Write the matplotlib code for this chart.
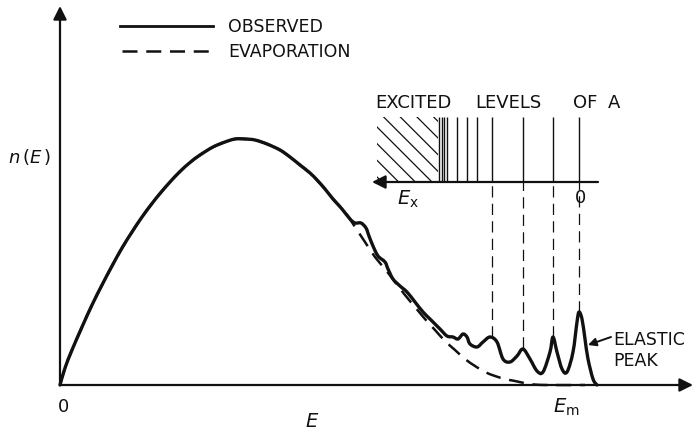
import numpy as np
import matplotlib.pyplot as plt
from matplotlib.patches import Rectangle, PathPatch
from matplotlib.path import Path

# energy spectrum n(E) of emitted particles, arbitrary units (E = 0 at origin)
obs_E = [0, 5, 12, 22, 32, 42, 52, 62, 72, 82, 92, 100, 110, 120, 130, 140,
         153, 165, 175, 185, 195, 207, 220, 230, 240, 250, 257, 265, 273, 282, 290,
         295, 301, 306, 309, 313, 318, 325, 328, 333, 340, 347, 355, 363, 370, 380,
         387, 393, 398, 403, 407, 410, 417, 423, 430, 437, 443, 450, 457, 463, 470,
         477, 483, 490, 493, 497, 502, 507, 513, 517, 519, 522, 525, 528, 533, 537]
obs_n = [0, 17, 35, 58, 80, 100, 119, 137, 153, 168, 181.5, 191.5, 203, 213.5, 222.5, 230,
         238, 243, 246, 246, 245, 241, 235, 228, 220, 212, 205, 196, 186, 176, 166,
         162, 162, 157, 149, 139, 129, 123, 116, 106, 99, 93, 83, 73, 66, 56,
         49, 48, 46, 51, 48, 41, 38, 43, 48, 43, 26, 23, 29, 36, 26,
         14, 13, 33, 48, 33, 16, 13, 33, 63, 73, 66, 46, 26, 6, 0]

evap_E = [0, 5, 12, 22, 32, 42, 52, 62, 72, 82, 92, 100, 110, 120, 130, 140,
          153, 165, 175, 185, 195, 207, 220, 230, 240, 250, 257, 265, 273, 285,
          295, 305, 315, 325, 335, 345, 355, 365, 375, 385, 395, 405, 415, 425,
          435, 445, 455, 470, 485, 525]
evap_n = [0, 17, 35, 58, 80, 100, 119, 137, 153, 168, 181.5, 191.5, 203, 213.5, 222.5, 230,
          238, 243, 246, 246, 245, 241, 235, 228, 220, 212, 205, 196, 186, 173,
          158, 143, 128, 116, 103, 90, 78, 66, 55, 44, 35, 26, 19, 13,
          9, 6, 4, 1, 0, 0]

# excited levels of A (energy scale of the inset)
level_E = [379, 382, 384, 387, 397, 407, 417, 432, 463, 493, 519]
# levels that show up as peaks in the spectrum, with the peak heights
peak_E = [432, 463, 493, 519]
peak_n = [48, 37, 48, 73]
level_lo, level_hi = 203, 268
continuum = (317, 378)

ink = '#111111'
plt.rcParams['mathtext.fontset'] = 'dejavusans'
plt.rcParams['hatch.linewidth'] = 0.9


def smooth_path(xs, ys):
    # Catmull-Rom through the points, written as cubic Bezier segments
    p = np.column_stack([xs, ys]).astype(float)
    p = np.vstack([p[0], p, p[-1]])
    verts = [p[1]]
    codes = [Path.MOVETO]
    for i in range(1, len(p) - 2):
        c1 = p[i] + (p[i + 1] - p[i - 1]) / 6
        c2 = p[i + 1] - (p[i + 2] - p[i]) / 6
        verts += [c1, c2, p[i + 1]]
        codes += [Path.CURVE4] * 3
    return Path(verts, codes)


fig = plt.figure(figsize=(6.96, 4.35), dpi=100)
ax = fig.add_axes([0, 0, 1, 1])
ax.set_xlim(-60, 636)
ax.set_ylim(-49, 386)
ax.axis('off')

arrow = dict(arrowstyle='-|>', color=ink, lw=1.6, mutation_scale=20,
             shrinkA=0, shrinkB=0)

# main axes
ax.annotate('', xy=(633, 0), xytext=(0, 0), arrowprops=arrow)
ax.annotate('', xy=(0, 379), xytext=(0, 0), arrowprops=arrow)

# spectra
ax.add_patch(PathPatch(smooth_path(evap_E, evap_n), fill=False, edgecolor=ink,
                       lw=1.8, ls=(0, (6, 3.5))))
ax.add_patch(PathPatch(smooth_path(obs_E, obs_n), fill=False, edgecolor=ink,
                       lw=2.4, joinstyle='round', capstyle='round'))

# legend
ax.plot([60, 153], [359, 359], color=ink, lw=2.0)
ax.plot([62, 153], [334, 334], color=ink, lw=1.8, ls=(0, (6, 3.5)))
ax.text(168, 359, 'OBSERVED', fontsize=12.5, color=ink, va='center')
ax.text(168, 334, 'EVAPORATION', fontsize=12.5, color=ink, va='center')

# inset: level scheme of A
ax.annotate('', xy=(312, level_lo), xytext=(538, level_lo), arrowprops=arrow)
ax.add_patch(Rectangle((continuum[0], level_lo), continuum[1] - continuum[0],
                       level_hi - level_lo, fill=False, hatch='\\\\', lw=0,
                       edgecolor=ink))
ax.vlines(level_E, level_lo, level_hi, color=ink, lw=1.0)
ax.vlines(peak_E, peak_n, level_lo, color=ink, lw=0.9, ls=(0, (9, 5)))

for word, x0 in zip(['EXCITED', 'LEVELS', 'OF', 'A'], [315, 415, 513, 548]):
    ax.text(x0, 283, word, fontsize=13, color=ink, va='center')
ax.text(348, 187, r'$E_{\rm x}$', fontsize=14, color=ink, ha='center', va='center')
ax.text(520, 188, '0', fontsize=13, color=ink, ha='center', va='center')

# elastic peak label
ax.annotate('', xy=(528, 40), xytext=(551, 48),
            arrowprops=dict(arrowstyle='-|>', color=ink, lw=1.4, mutation_scale=12,
                            shrinkA=0, shrinkB=0))
ax.text(553, 46, 'ELASTIC', fontsize=12.5, color=ink, va='center')
ax.text(553, 25, 'PEAK', fontsize=12.5, color=ink, va='center')

# axis labels
ax.text(-30, 229, r'$n\,(E\,)$', fontsize=13, color=ink, ha='center', va='center')
ax.text(3, -21, '0', fontsize=13, color=ink, ha='center', va='center')
ax.text(252, -36, r'$E$', fontsize=14, color=ink, ha='center', va='center')
ax.text(506, -21, r'$E_{\rm m}$', fontsize=14, color=ink, ha='center', va='center')

fig.savefig('out.png', dpi=100, facecolor='white')
